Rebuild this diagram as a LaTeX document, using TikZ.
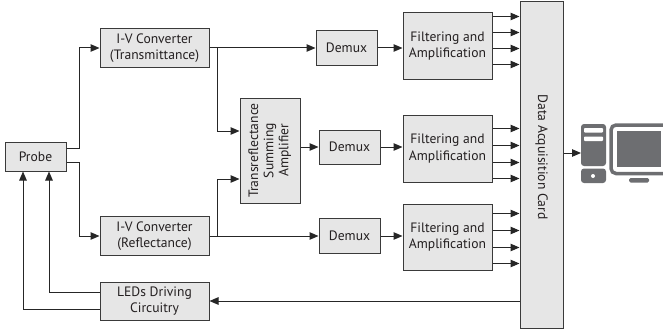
\documentclass[tikz,border=0pt]{standalone}
\usepackage{fontspec}
\setmainfont{PT Sans}
\usetikzlibrary{arrows.meta,calc}
\definecolor{boxfill}{HTML}{E6E6E6}
\definecolor{boxline}{HTML}{3A3A3A}
\definecolor{pcgray}{HTML}{6D6E71}
\definecolor{txt}{HTML}{231F20}
\begin{document}
\begin{tikzpicture}[x=1pt,y=-1pt,
  blk/.style={draw=boxline,fill=boxfill,line width=1pt,inner sep=0pt,align=center,text=txt,font=\fontsize{13.6}{16.6}\selectfont},
  arr/.style={line width=1pt,draw=black!85,-{Triangle[length=9pt,width=7.5pt]}},
  ln/.style={line width=1pt,draw=black!85}]
\useasboundingbox (0,0) rectangle (663,329);
\clip (0,0) rectangle (663,329);
% blocks
\node[blk,minimum width=61,minimum height=29] (probe) at (35.5,156.5) {Probe};
\node[blk,minimum width=109,minimum height=39] (iv1) at (154.5,48) {I-V Converter\\(Transmittance)};
\node[blk,minimum width=109,minimum height=39] (iv2) at (154.5,236) {I-V Converter\\(Reflectance)};
\node[blk,minimum width=109,minimum height=38] (led) at (154.5,301) {LEDs Driving\\Circuitry};
\node[blk,minimum width=60,minimum height=105] (sum) at (270,150.5) {\rotatebox{90}{\begin{tabular}{@{}c@{}}Transreflectance\\[-1.5pt]Summing\\[-1.5pt]Amplifier\end{tabular}}};
\node[blk,minimum width=61,minimum height=35] (dmx1) at (346.5,48) {Demux};
\node[blk,minimum width=61,minimum height=34] (dmx2) at (349.5,147) {Demux};
\node[blk,minimum width=61,minimum height=35] (dmx3) at (349.5,236) {Demux};
\node[blk,minimum width=89,minimum height=66] (f1) at (447.5,46) {Filtering and\\Amplification};
\node[blk,minimum width=89,minimum height=67] (f2) at (447.5,148.5) {Filtering and\\Amplification};
\node[blk,minimum width=89,minimum height=66] (f3) at (447.5,237) {Filtering and\\Amplification};
\node[blk,minimum width=43,minimum height=326] (daq) at (541.5,165) {};
\node[text=txt,font=\fontsize{13.6}{16.6}\selectfont,rotate=-90] (daqtext) at (541.5,157) {Data Acquisition Card};
% connectors
\draw[arr] ([yshift=8.5pt]probe.east) -- ++(12.5,0) |- (iv1.west);
\draw[arr] ([yshift=-5.5pt]probe.east) -- ++(12.5,0) |- (iv2.west);
\draw[arr] (iv1.east) -- (iv1.east -| dmx1.west);
\draw[arr] (iv2.east) -- (iv2.east -| dmx3.west);
\draw[arr] (iv1.east) ++(8,0) |- ([yshift=19.5pt]sum.west);
\draw[arr] (iv2.east) ++(8,0) |- ([yshift=-28.5pt]sum.west);
\draw[arr] (sum.east |- dmx2.west) -- (dmx2.west);
\draw[arr] (dmx1.east) -- (dmx1.east -| f1.west);
\draw[arr] (dmx2.east) -- (dmx2.east -| f2.west);
\draw[arr] (dmx3.east) -- (dmx3.east -| f3.west);
\foreach \d in {4,20,36,52} \draw[arr] ([yshift=-\d pt]f1.north east) coordinate (t) -- (t -| daq.west);
\foreach \d in {14,31,48,64} \draw[arr] ([yshift=-\d pt]f2.north east) coordinate (t) -- (t -| daq.west);
\foreach \d in {10,27,44,60} \draw[arr] ([yshift=-\d pt]f3.north east) coordinate (t) -- (t -| daq.west);
\draw[arr] (daq.west |- led.east) -- (led.east);
\draw[arr] ([yshift=-8pt]led.west) -| ([xshift=-12.5pt]probe.south);
\draw[arr] ([yshift=9pt]led.west) -| ([xshift=13.5pt]probe.south);
\coordinate (pc) at (581,153);
\draw[arr] (daq.east |- pc) -- (pc);
% computer icon
\fill[pcgray,rounded corners=3pt] (581,124) rectangle (606,166);
\fill[pcgray,rounded corners=3pt] (581,168.5) rectangle (606,183);
\fill[white,rounded corners=0.8pt] (584,128) rectangle (603,132.5);
\fill[white,rounded corners=0.8pt] (584,136.5) rectangle (603,141);
\fill[white] (593,176) circle (2pt);
\draw[pcgray,line width=3.5pt,rounded corners=5pt] (611,125) rectangle (670,173.5);
\fill[pcgray] (617,131) rectangle (661,167);
\fill[pcgray,rounded corners=1.5pt] (629,178) rectangle (649,182.5);
\end{tikzpicture}
\end{document}
